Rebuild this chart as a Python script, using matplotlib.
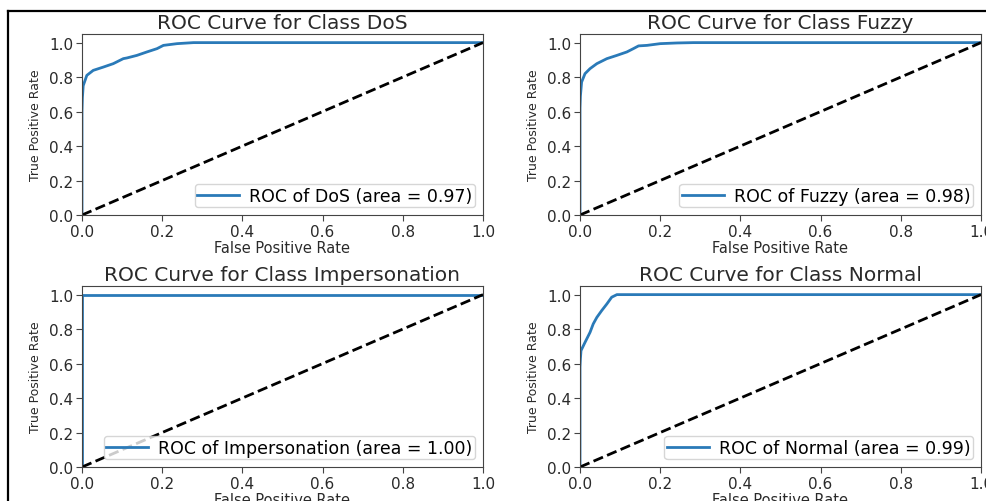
import matplotlib
matplotlib.use("Agg")
import matplotlib.pyplot as plt
from matplotlib.lines import Line2D

classes = ["DoS", "Fuzzy", "Impersonation", "Normal"]
areas = ["0.97", "0.98", "1.00", "0.99"]

fpr_dos = [0.0, 0.0, 0.001, 0.003, 0.012, 0.028, 0.053, 0.078, 0.103, 0.112, 0.137, 0.162, 0.187, 0.203, 0.237, 0.278, 1.0]
tpr_dos = [0.0, 0.60, 0.68, 0.75, 0.81, 0.839, 0.858, 0.878, 0.907, 0.911, 0.926, 0.946, 0.965, 0.984, 0.994, 1.0, 1.0]

fpr_fuzzy = [0.0, 0.0, 0.001, 0.004, 0.0125, 0.025, 0.042, 0.067, 0.092, 0.117, 0.133, 0.146, 0.167, 0.2, 0.242, 0.283, 1.0]
tpr_fuzzy = [0.0, 0.62, 0.69, 0.771, 0.82, 0.849, 0.878, 0.907, 0.926, 0.946, 0.965, 0.981, 0.984, 0.994, 0.998, 1.0, 1.0]

fpr_imp = [0.0, 0.0, 1.0]
tpr_imp = [0.0, 1.0, 1.0]

fpr_normal = [0.0, 0.0, 0.001, 0.0025, 0.0125, 0.025, 0.033, 0.042, 0.054, 0.067, 0.079, 0.092, 1.0]
tpr_normal = [0.0, 0.58, 0.627, 0.675, 0.723, 0.781, 0.83, 0.868, 0.907, 0.946, 0.985, 1.0, 1.0]

curves = [(fpr_dos, tpr_dos), (fpr_fuzzy, tpr_fuzzy), (fpr_imp, tpr_imp), (fpr_normal, tpr_normal)]
ticks = [0.0, 0.2, 0.4, 0.6, 0.8, 1.0]

W, H = 986, 502
fig = plt.figure(figsize=(W / 100, H / 100), dpi=100)
fig.patch.set_facecolor("white")

positions = [
    (82, 35, 401, 181),
    (580, 35, 401, 181),
    (82, 287, 401, 181),
    (580, 287, 401, 181),
]

txt = "#2a2a2a"
for name, area, (fx, ty), (px, py, pw, ph) in zip(classes, areas, curves, positions):
    ax = fig.add_axes([px / W, 1 - (py + ph) / H, pw / W, ph / H])
    ax.plot(fx, ty, color="#2a7ab8", lw=2, label=f"ROC of {name} (area = {area})")
    ax.plot([0, 1], [0, 1], "k--", lw=2)
    ax.set_xlim(0, 1)
    ax.set_ylim(0, 1.05)
    ax.set_xticks(ticks)
    ax.set_yticks(ticks)
    ax.tick_params(labelsize=11, length=4, pad=2.5, labelcolor=txt, color="#444444")
    ax.set_title(f"ROC Curve for Class {name}", fontsize=14.5, pad=4, color=txt)
    ax.set_xlabel("False Positive Rate", fontsize=10.5, color=txt)
    ax.xaxis.set_label_coords(0.5, -0.14)
    ax.set_ylabel("True Positive Rate", fontsize=9, color=txt, labelpad=5)
    ax.legend(loc="lower right", fontsize=12.5, borderpad=0.15, handlelength=2.4,
              handletextpad=0.6, borderaxespad=0.45)
    for s in ax.spines.values():
        s.set_color("#444444")

# screenshot frame
fig.add_artist(Line2D([8 / W, 8 / W], [0, 1 - 12 / H], color="black", lw=1.6, transform=fig.transFigure))
fig.add_artist(Line2D([8 / W, 1], [1 - 12 / H, 1 - 12 / H], color="black", lw=1.6, transform=fig.transFigure))

fig.savefig("out.png", dpi=100, facecolor="white")
